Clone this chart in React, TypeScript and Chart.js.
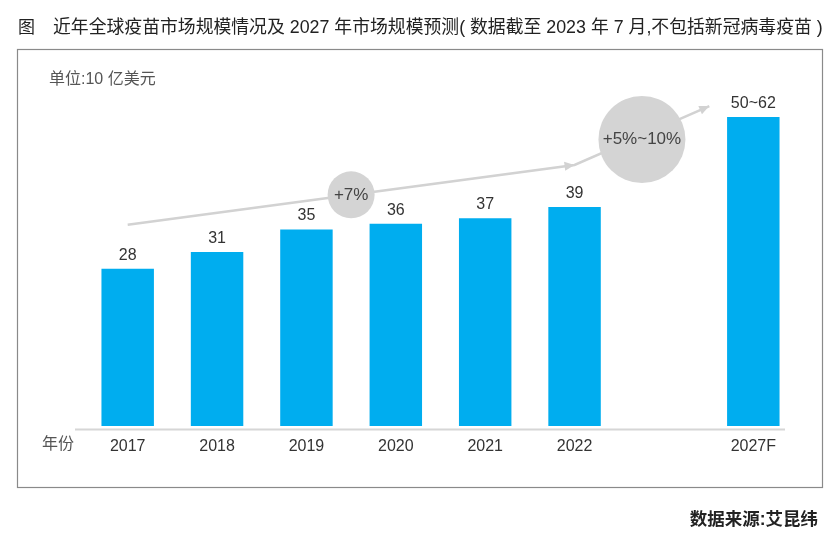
import React, { useEffect, useRef } from 'react';
import { Chart, registerables } from 'chart.js';

Chart.register(...registerables);

const categories = ['2017', '2018', '2019', '2020', '2021', '2022', '', '2027F'];
const marketSize = [28, 31, 35, 36, 37, 39, null, 55];
const valueLabels = ['28', '31', '35', '36', '37', '39', '', '50~62'];
const growthLabels = ['+7%', '+5%~10%'];
const titleLead = '图';
const titleText = '近年全球疫苗市场规模情况及 2027 年市场规模预测( 数据截至 2023 年 7 月,不包括新冠病毒疫苗 )';
const unitText = '单位:10 亿美元';
const axisLabel = '年份';
const sourceText = '数据来源:艾昆纬';

const FONT = '"Liberation Sans", "Noto Sans CJK SC", sans-serif';
const BAR = '#00adef';
const GREY_LINE = '#d2d2d2';
const GREY_FILL = '#d4d4d4';

Chart.defaults.font.family = FONT;

function arrowHead(ctx: CanvasRenderingContext2D, from: { x: number; y: number }, to: { x: number; y: number }) {
  const a = Math.atan2(to.y - from.y, to.x - from.x);
  const len = 10;
  const hw = 4.5;
  ctx.beginPath();
  ctx.moveTo(to.x, to.y);
  ctx.lineTo(to.x - len * Math.cos(a) + hw * Math.sin(a), to.y - len * Math.sin(a) - hw * Math.cos(a));
  ctx.lineTo(to.x - len * Math.cos(a) - hw * Math.sin(a), to.y - len * Math.sin(a) + hw * Math.cos(a));
  ctx.closePath();
  ctx.fill();
}

const decorPlugin = {
  id: 'decor',
  beforeDraw(chart: any) {
    const ctx: CanvasRenderingContext2D = chart.ctx;
    ctx.save();
    ctx.fillStyle = '#fff';
    ctx.fillRect(0, 0, chart.width, chart.height);
    // frame
    ctx.strokeStyle = '#8a8a8a';
    ctx.lineWidth = 1.2;
    ctx.strokeRect(17.5, 49.5, 805, 438);
    // title
    ctx.fillStyle = '#222';
    ctx.textBaseline = 'middle';
    ctx.textAlign = 'left';
    ctx.font = `17px ${FONT}`;
    ctx.fillText(titleLead, 18, 28);
    const w = ctx.measureText(titleText).width;
    const size = 17 * (823 - 53) / w;
    ctx.font = `${size.toFixed(2)}px ${FONT}`;
    ctx.fillText(titleText, 53, 28);
    // unit
    ctx.fillStyle = '#555';
    ctx.font = `16px ${FONT}`;
    ctx.fillText(unitText, 49, 80);
    // source
    ctx.fillStyle = '#222';
    ctx.textAlign = 'right';
    ctx.font = `bold 17.5px ${FONT}`;
    ctx.fillText(sourceText, 818, 520);
    ctx.restore();
  },
  afterDatasetsDraw(chart: any) {
    const ctx: CanvasRenderingContext2D = chart.ctx;
    const area = chart.chartArea;
    const bars = chart.getDatasetMeta(0).data;
    ctx.save();
    // baseline
    ctx.strokeStyle = '#d6d6d6';
    ctx.lineWidth = 2;
    ctx.beginPath();
    ctx.moveTo(area.left - 8, area.bottom + 3.5);
    ctx.lineTo(area.right - 13, area.bottom + 3.5);
    ctx.stroke();
    // axis label
    ctx.fillStyle = '#555';
    ctx.font = `16px ${FONT}`;
    ctx.textAlign = 'right';
    ctx.textBaseline = 'middle';
    ctx.fillText(axisLabel, 74, 445);
    // value labels
    ctx.fillStyle = '#333';
    ctx.textAlign = 'center';
    ctx.textBaseline = 'alphabetic';
    ctx.font = `16px ${FONT}`;
    bars.forEach((b: any, i: number) => {
      if (marketSize[i] == null) return;
      ctx.fillText(valueLabels[i], b.x, b.y - 9);
    });
    // growth arrows
    const b0 = bars[0], b5 = bars[5], b7 = bars[7];
    const p0 = { x: b0.x, y: b0.y - 44 };
    const p1 = { x: b5.x, y: b5.y - 42 };
    const p2 = { x: b7.x - 44, y: b7.y - 11 };
    ctx.strokeStyle = GREY_LINE;
    ctx.fillStyle = GREY_LINE;
    ctx.lineWidth = 2.5;
    ctx.beginPath();
    ctx.moveTo(p0.x, p0.y);
    ctx.lineTo(p1.x, p1.y);
    ctx.lineTo(p2.x, p2.y);
    ctx.stroke();
    arrowHead(ctx, p0, p1);
    arrowHead(ctx, p1, p2);
    const c1 = { x: (p0.x + p1.x) / 2, y: (p0.y + p1.y) / 2 };
    const c2 = { x: (p1.x + p2.x) / 2, y: (p1.y + p2.y) / 2 + 4 };
    ctx.fillStyle = GREY_FILL;
    ctx.beginPath();
    ctx.arc(c1.x, c1.y, 23.5, 0, Math.PI * 2);
    ctx.fill();
    ctx.beginPath();
    ctx.arc(c2.x, c2.y, 43.5, 0, Math.PI * 2);
    ctx.fill();
    ctx.fillStyle = '#444';
    ctx.textBaseline = 'middle';
    ctx.font = `17px ${FONT}`;
    ctx.fillText(growthLabels[0], c1.x, c1.y);
    ctx.fillText(growthLabels[1], c2.x, c2.y);
    ctx.restore();
  },
};

export default function App() {
  const ref = useRef<HTMLCanvasElement>(null);
  useEffect(() => {
    const chart = new Chart(ref.current as HTMLCanvasElement, {
      type: 'bar',
      data: {
        labels: categories,
        datasets: [
          {
            data: marketSize as any,
            backgroundColor: BAR,
            barPercentage: 0.587,
            categoryPercentage: 1,
          },
        ],
      },
      options: {
        responsive: true,
        maintainAspectRatio: false,
        animation: false,
        layout: { padding: { left: 83, right: 36, top: 89, bottom: 79 } },
        plugins: {
          legend: { display: false },
          tooltip: { enabled: false },
          title: { display: false },
        },
        scales: {
          x: {
            grid: { display: false },
            border: { display: false },
            ticks: {
              color: '#333',
              font: { size: 16 },
              padding: 3,
              autoSkip: false,
              maxRotation: 0,
            },
            afterFit: (s: any) => {
              s.height = 40;
            },
          },
          y: { display: false, min: 0, max: 60 },
        },
      },
      plugins: [decorPlugin],
    });
    return () => chart.destroy();
  }, []);
  return (
    <div style={{ position: 'absolute', left: 0, top: 0, width: 834, height: 545, background: '#fff' }}>
      <canvas ref={ref} />
    </div>
  );
}
